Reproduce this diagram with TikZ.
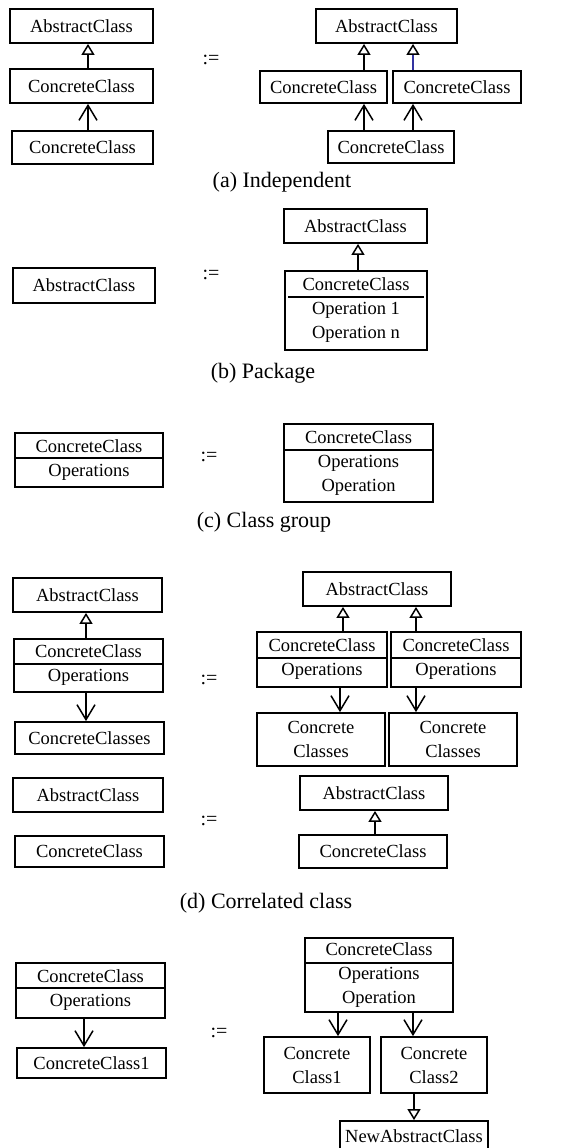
\documentclass[tikz,border=0pt]{standalone}
\usepackage{fontspec}
\setmainfont{Liberation Serif}
\usetikzlibrary{arrows.meta}

\definecolor{linkblue}{RGB}{50,50,160}

\tikzset{
  classbox/.style={draw,line width=1.8pt,inner sep=2pt,align=center,
    font=\fontsize{18.5}{24}\selectfont},
  sepline/.style={line width=1.6pt},
  genline/.style={line width=1.5pt,-{Triangle[open,length=11pt,width=13pt,color=black]}},
  useline/.style={line width=1.5pt,-{Straight Barb[length=15pt,width=18pt]}},
  defsign/.style={font=\fontsize{20}{24}\selectfont},
  subcap/.style={font=\fontsize{22}{26}\selectfont},
}

\begin{document}
\begin{tikzpicture}[x=1pt,y=-1pt]
\useasboundingbox (0,0) rectangle (577,1148);

% (a) independent
\node[classbox,minimum width=143pt,minimum height=34pt] (aAbs) at (81.5,26) {AbstractClass};
\node[classbox,minimum width=143pt,minimum height=34pt] (aCon) at (81.5,86) {ConcreteClass};
\node[classbox,minimum width=141pt,minimum height=33pt] (aSub) at (82.5,147.5) {ConcreteClass};
\draw[genline] ([xshift=6.5pt]aCon.north) -- ([xshift=6.5pt]aCon.north |- aAbs.south);
\draw[useline] ([xshift=5.5pt]aSub.north) -- ([xshift=5.5pt]aSub.north |- aCon.south);
\node[defsign] (aDef) at (211,60) {:=};
\node[classbox,minimum width=141pt,minimum height=34pt] (aAbsR) at (386.5,26) {AbstractClass};
\node[classbox,minimum width=127pt,minimum height=32pt] (aConL) at (323.5,87) {ConcreteClass};
\node[classbox,minimum width=128pt,minimum height=32pt] (aConR) at (457,87) {ConcreteClass};
\node[classbox,minimum width=126pt,minimum height=32pt] (aSubR) at (391,147) {ConcreteClass};
\draw[genline] ([xshift=40.5pt]aConL.north) -- ([xshift=40.5pt]aConL.north |- aAbsR.south);
\draw[genline,draw=linkblue] ([xshift=-44pt]aConR.north) -- ([xshift=-44pt]aConR.north |- aAbsR.south);
\draw[useline] ([xshift=-27pt]aSubR.north) -- ([xshift=-27pt]aSubR.north |- aConL.south);
\draw[useline] ([xshift=22pt]aSubR.north) -- ([xshift=22pt]aSubR.north |- aConR.south);
\node[subcap] (aCap) at (282,182) {(a) Independent};

% (b) package
\node[classbox,minimum width=142pt,minimum height=35pt] (bAbs) at (84,285.5) {AbstractClass};
\node[defsign] (bDef) at (211,275) {:=};
\node[classbox,minimum width=143pt,minimum height=34pt] (bAbsR) at (355.5,226) {AbstractClass};
\node[classbox,minimum width=142pt,minimum height=79pt] (bCon) at (356,310.5) {ConcreteClass\\Operation 1\\Operation n};
\draw[sepline] ([xshift=4pt,yshift=-27pt]bCon.north west) -- ([xshift=-4pt,yshift=-27pt]bCon.north east);
\draw[genline] ([xshift=2pt]bCon.north) -- ([xshift=2pt]bCon.north |- bAbsR.south);
\node[subcap] (bCap) at (263,373) {(b) Package};

% (c) class group
\node[classbox,minimum width=148pt,minimum height=54pt] (cCon) at (89,460) {ConcreteClass\\Operations};
\draw[sepline] ([yshift=-26pt]cCon.north west) -- ([yshift=-26pt]cCon.north east);
\node[defsign] (cDef) at (209,457) {:=};
\node[classbox,minimum width=149pt,minimum height=78pt] (cConR) at (358.5,463) {ConcreteClass\\Operations\\Operation};
\draw[sepline] ([yshift=-27pt]cConR.north west) -- ([yshift=-27pt]cConR.north east);
\node[subcap] (cCap) at (264,522) {(c) Class group};

% (d) correlated class
\node[classbox,minimum width=149pt,minimum height=34pt] (dAbs) at (87.5,595) {AbstractClass};
\node[classbox,minimum width=149pt,minimum height=53pt] (dCon) at (88.5,665.5) {ConcreteClass\\Operations};
\draw[sepline] ([yshift=-26pt]dCon.north west) -- ([yshift=-26pt]dCon.north east);
\node[classbox,minimum width=149pt,minimum height=32pt] (dSub) at (89.5,738) {ConcreteClasses};
\draw[genline] ([xshift=-2.5pt]dCon.north) -- ([xshift=-2.5pt]dCon.north |- dAbs.south);
\draw[useline] ([xshift=-2.5pt]dCon.south) -- ([xshift=-2.5pt]dCon.south |- dSub.north);
\node[defsign] (dDef) at (209,680) {:=};
\node[classbox,minimum width=148pt,minimum height=34pt] (dAbsR) at (377,589) {AbstractClass};
\node[classbox,minimum width=130pt,minimum height=55pt] (dConL) at (322,659.5) {ConcreteClass\\Operations};
\draw[sepline] ([yshift=-27pt]dConL.north west) -- ([yshift=-27pt]dConL.north east);
\node[classbox,minimum width=130pt,minimum height=55pt] (dConR) at (456,659.5) {ConcreteClass\\Operations};
\draw[sepline] ([yshift=-27pt]dConR.north west) -- ([yshift=-27pt]dConR.north east);
\node[classbox,minimum width=128pt,minimum height=53pt] (dSubL) at (321,739.5) {Concrete\\Classes};
\node[classbox,minimum width=128pt,minimum height=53pt] (dSubR) at (453,739.5) {Concrete\\Classes};
\draw[genline] ([xshift=21pt]dConL.north) -- ([xshift=21pt]dConL.north |- dAbsR.south);
\draw[genline] ([xshift=-40pt]dConR.north) -- ([xshift=-40pt]dConR.north |- dAbsR.south);
\draw[useline] ([xshift=18pt]dConL.south) -- ([xshift=18pt]dConL.south |- dSubL.north);
\draw[useline] ([xshift=-40pt]dConR.south) -- ([xshift=-40pt]dConR.south |- dSubR.north);
\node[classbox,minimum width=150pt,minimum height=34pt] (dAbs2) at (88,795) {AbstractClass};
\node[classbox,minimum width=149pt,minimum height=31pt] (dCon2) at (89.5,851.5) {ConcreteClass};
\node[defsign] (dDef2) at (209,821) {:=};
\node[classbox,minimum width=148pt,minimum height=34pt] (dAbs2R) at (374,793) {AbstractClass};
\node[classbox,minimum width=148pt,minimum height=33pt] (dCon2R) at (373,851.5) {ConcreteClass};
\draw[genline] ([xshift=2pt]dCon2R.north) -- ([xshift=2pt]dCon2R.north |- dAbs2R.south);
\node[subcap] (dCap) at (266,903) {(d) Correlated class};

% (e)
\node[classbox,minimum width=149pt,minimum height=55pt] (eCon) at (90.5,990.5) {ConcreteClass\\Operations};
\draw[sepline] ([yshift=-26pt]eCon.north west) -- ([yshift=-26pt]eCon.north east);
\node[classbox,minimum width=149pt,minimum height=30pt] (eSub) at (91.5,1063) {ConcreteClass1};
\draw[useline] ([xshift=-6.5pt]eCon.south) -- ([xshift=-6.5pt]eCon.south |- eSub.north);
\node[defsign] (eDef) at (219,1033) {:=};
\node[classbox,minimum width=148pt,minimum height=74pt] (eConR) at (379,975) {ConcreteClass\\Operations\\Operation};
\draw[sepline] ([yshift=-26pt]eConR.north west) -- ([yshift=-26pt]eConR.north east);
\node[classbox,minimum width=106pt,minimum height=56pt] (eSubA) at (317,1065) {Concrete\\Class1};
\node[classbox,minimum width=106pt,minimum height=56pt] (eSubB) at (434,1065) {Concrete\\Class2};
\draw[useline] ([xshift=-41pt]eConR.south) -- ([xshift=-41pt]eConR.south |- eSubA.north);
\draw[useline] ([xshift=34pt]eConR.south) -- ([xshift=34pt]eConR.south |- eSubB.north);
\node[classbox,minimum width=148pt,minimum height=31pt] (eNew) at (414,1136.5) {NewAbstractClass};
\draw[genline] ([xshift=-20pt]eSubB.south) -- ([xshift=-20pt]eSubB.south |- eNew.north);
\end{tikzpicture}
\end{document}
